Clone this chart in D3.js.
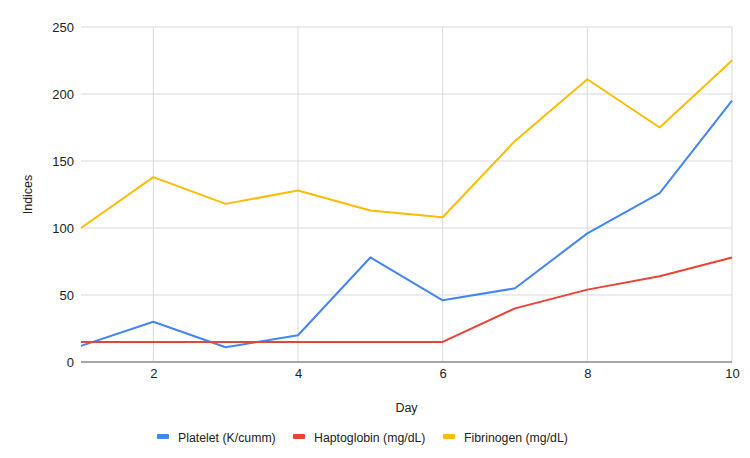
<!DOCTYPE html>
<html>
<head>
<meta charset="utf-8">
<script src="https://cdn.jsdelivr.net/npm/d3@7"></script>
<style>
  body { margin: 0; background: #fff; font-family: "Liberation Sans", Arial, sans-serif; }
  .grid line { stroke: #d9d9d9; stroke-width: 1; }
  .tick text { fill: #222; font-size: 13px; font-family: "Liberation Sans", Arial, sans-serif; }
</style>
</head>
<body>
<div id="chart"></div>
<script>
const days = [1, 2, 3, 4, 5, 6, 7, 8, 9, 10];
const platelet = [12, 30, 11, 20, 78, 46, 55, 96, 126, 195];
const haptoglobin = [15, 15, 15, 15, 15, 15, 40, 54, 64, 78];
const fibrinogen = [100, 138, 118, 128, 113, 108, 165, 211, 175, 225];
const xTicks = [2, 4, 6, 8, 10];
const yTicks = [0, 50, 100, 150, 200, 250];

const series = [
  { name: "Platelet (K/cumm)", values: platelet, color: "#4285f4" },
  { name: "Haptoglobin (mg/dL)", values: haptoglobin, color: "#ea4335" },
  { name: "Fibrinogen (mg/dL)", values: fibrinogen, color: "#fbbc04" }
];

const W = 750, H = 458;
const margin = { top: 27, right: 18, bottom: 96, left: 81 };
const width = W - margin.left - margin.right;
const height = H - margin.top - margin.bottom;

const svg = d3.select("#chart").append("svg")
  .attr("width", W).attr("height", H);
const g = svg.append("g").attr("transform", `translate(${margin.left},${margin.top})`);

const x = d3.scaleLinear().domain([1, 10]).range([0, width]);
const y = d3.scaleLinear().domain([0, 250]).range([height, 0]);

// grid
g.append("g").attr("class", "grid")
  .selectAll("line").data(yTicks.slice(1)).join("line")
  .attr("x1", 0).attr("x2", width)
  .attr("y1", d => y(d)).attr("y2", d => y(d));
g.append("g").attr("class", "grid")
  .selectAll("line").data(xTicks).join("line")
  .attr("x1", d => x(d)).attr("x2", d => x(d))
  .attr("y1", 0).attr("y2", height);

// y axis labels
const yAxis = g.append("g")
  .call(d3.axisLeft(y).tickValues(yTicks).tickSize(0).tickPadding(7));
yAxis.select(".domain").remove();

// x axis
const xAxis = g.append("g").attr("transform", `translate(0,${height})`)
  .call(d3.axisBottom(x).tickValues(xTicks).tickSize(0).tickPadding(7));
xAxis.select(".domain").remove();

// baseline
g.append("line")
  .attr("x1", 0).attr("x2", width)
  .attr("y1", y(0)).attr("y2", y(0))
  .attr("stroke", "#888").attr("stroke-width", 1.5);

// lines
const line = d3.line().x((d, i) => x(days[i])).y(d => y(d));
series.forEach(s => {
  g.append("path")
    .datum(s.values)
    .attr("fill", "none")
    .attr("stroke", s.color)
    .attr("stroke-width", 2)
    .attr("stroke-linejoin", "round")
    .attr("d", line);
});

// axis titles
svg.append("text")
  .attr("x", margin.left + width / 2).attr("y", 412)
  .attr("text-anchor", "middle")
  .attr("font-size", 12.5).attr("fill", "#222")
  .text("Day");
svg.append("text")
  .attr("transform", `translate(32,${margin.top + height / 2}) rotate(-90)`)
  .attr("text-anchor", "middle")
  .attr("font-size", 12.5).attr("fill", "#222")
  .text("Indices");

// legend
const legendX = [157, 293, 443];
const legend = svg.append("g").attr("transform", "translate(0,437)");
series.forEach((s, i) => {
  const item = legend.append("g").attr("transform", `translate(${legendX[i]},0)`);
  item.append("rect").attr("x", 0).attr("y", -3).attr("width", 12).attr("height", 5)
    .attr("rx", 1).attr("fill", s.color);
  item.append("text").attr("x", 21).attr("y", 4.5)
    .attr("font-size", 12.3).attr("fill", "#222").text(s.name);
});
</script>
</body>
</html>
